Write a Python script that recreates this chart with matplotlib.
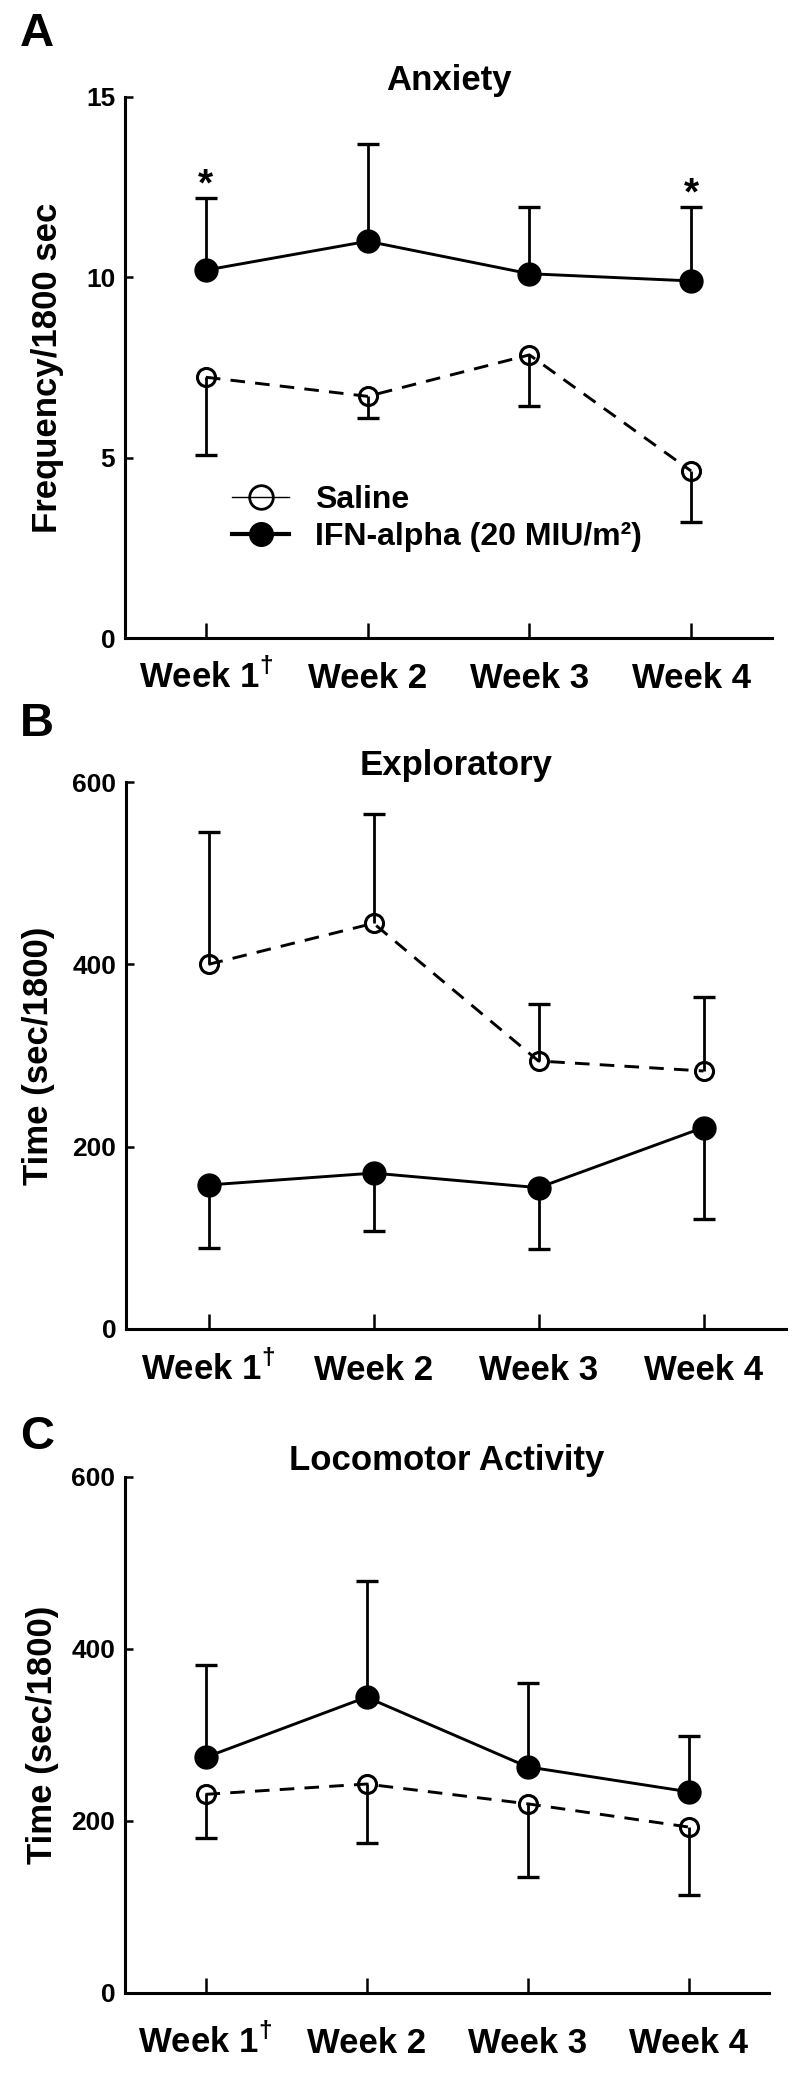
import numpy as np
import matplotlib
matplotlib.use('Agg')
import matplotlib.pyplot as plt
from matplotlib.lines import Line2D

plt.rcParams['font.family'] = ['Liberation Sans', 'DejaVu Sans']
plt.rcParams['font.weight'] = 'bold'
plt.rcParams['mathtext.fontset'] = 'custom'
plt.rcParams['mathtext.rm'] = 'Liberation Sans'

weeks = [1, 2, 3, 4]
week_labels = ['Week 1$^{\\mathrm{\\dagger}}$', 'Week 2', 'Week 3', 'Week 4']

# A - anxiety (frequency / 1800 sec)
anx_sal = [7.23, 6.7, 7.85, 4.63]
anx_sal_err = [5.08, 6.1, 6.44, 3.23]      # lower error bar ends
anx_ifn = [10.2, 11.0, 10.1, 9.9]
anx_ifn_err = [12.2, 13.7, 11.95, 11.95]   # upper error bar ends
anx_star = [1, 4]

# B - exploratory (sec / 1800)
exp_sal = [400, 445, 294, 283]
exp_sal_err = [545, 565, 357, 364]
exp_ifn = [158, 171, 155, 221]
exp_ifn_err = [89, 107, 88, 121]

# C - locomotor activity (sec / 1800)
loc_sal = [231, 243, 220, 193]
loc_sal_err = [180, 174, 135, 114]
loc_ifn = [274, 344, 263, 234]
loc_ifn_err = [381, 479, 361, 299]

W, H = 800, 2082
fig = plt.figure(figsize=(W / 100, H / 100), dpi=100)


def px_axes(left, right, top, bottom):
    return fig.add_axes([left / W, 1 - bottom / H, (right - left) / W, (bottom - top) / H])


def draw(ax, sal, sal_err, ifn, ifn_err, ymax, yticks, title, ylabel, ylab_x, xpad):
    ax.plot(weeks, sal, ls=(0, (5, 3.5)), color='k', lw=2.1, marker='o', ms=13,
            mfc='none', mec='k', mew=2.2, zorder=3)
    ax.plot(weeks, ifn, ls='-', color='k', lw=2.1, marker='o', ms=16.5,
            mfc='k', mec='k', zorder=3)
    for y, e in ((sal, sal_err), (ifn, ifn_err)):
        ax.vlines(weeks, y, e, color='k', lw=2, zorder=2)
        ax.plot(weeks, e, ls='none', marker='_', ms=16, mew=2.4, color='k')

    ax.set_xlim(0.5, 4.5)
    ax.set_ylim(0, ymax)
    ax.spines[['top', 'right']].set_visible(False)
    ax.spines[['left', 'bottom']].set_linewidth(2.2)
    ax.set_xticks(weeks, week_labels, fontsize=25)
    for lab in ax.get_xticklabels():
        lab.set_verticalalignment('baseline')
    ax.set_yticks(yticks)
    ax.tick_params(axis='x', direction='in', length=11, width=1.8, pad=xpad)
    ax.tick_params(axis='y', direction='in', length=6, width=1.8, pad=7, labelsize=19)
    ax.set_title(title, fontsize=25, fontweight='bold', pad=4)
    ax.set_ylabel(ylabel, fontsize=25, fontweight='bold')
    ax.yaxis.set_label_coords(ylab_x, 0.5)


axA = px_axes(125, 772, 97, 638)
draw(axA, anx_sal, anx_sal_err, anx_ifn, anx_ifn_err, 15, [0, 5, 10, 15],
     'Anxiety', 'Frequency/1800 sec', -0.095, 36)
for w in anx_star:
    axA.text(w, anx_ifn_err[w - 1] + 0.35, '*', ha='center', va='center',
             fontsize=28, fontweight='bold')

handles = [
    Line2D([], [], color='k', lw=1, marker='o', ms=17, mfc='none', mec='k', mew=2),
    Line2D([], [], color='k', lw=3, marker='o', ms=17, mfc='k', mec='k'),
]
axA.legend(handles, ['Saline', 'IFN-alpha (20 MIU/m²)'], loc='upper left',
           bbox_to_anchor=(0.165, 0.283), frameon=False, fontsize=23,
           handlelength=1.8, handletextpad=0.8, labelspacing=0.22,
           borderpad=0, borderaxespad=0)

axB = px_axes(126, 786, 782, 1329)
draw(axB, exp_sal, exp_sal_err, exp_ifn, exp_ifn_err, 600, [0, 200, 400, 600],
     'Exploratory', 'Time (sec/1800)', -0.108, 37)

axC = px_axes(125, 769, 1477, 1993)
draw(axC, loc_sal, loc_sal_err, loc_ifn, loc_ifn_err, 600, [0, 200, 400, 600],
     'Locomotor Activity', 'Time (sec/1800)', -0.103, 43)

for letter, base in (('A', 46), ('B', 736), ('C', 1449)):
    fig.text(20 / W, 1 - base / H, letter, fontsize=34, fontweight='bold',
             ha='left', va='baseline')

fig.savefig('out.png', dpi=100)
